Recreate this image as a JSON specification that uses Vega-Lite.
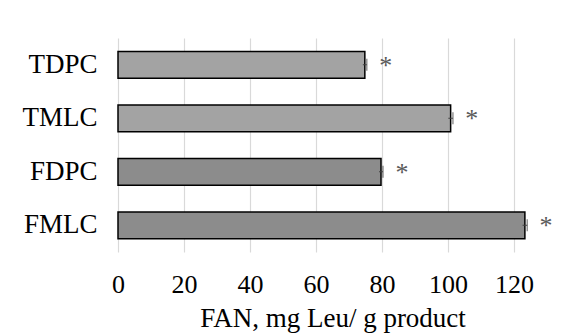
{
  "$schema": "https://vega.github.io/schema/vega-lite/v6.json",
  "autosize": "none",
  "width": 429,
  "height": 214,
  "padding": {"left": 118, "top": 38, "right": 24, "bottom": 81},
  "background": "white",
  "config": {
    "view": {"stroke": null},
    "font": "Liberation Serif",
    "axis": {"labelFont": "Liberation Serif", "titleFont": "Liberation Serif", "labelColor": "black", "titleColor": "black"}
  },
  "data": {
    "values": [
      {"product": "TDPC", "fan": 74.8, "err": 0.6, "group": "T"},
      {"product": "TMLC", "fan": 100.8, "err": 0.7, "group": "T"},
      {"product": "FDPC", "fan": 79.7, "err": 0.6, "group": "F"},
      {"product": "FMLC", "fan": 123.3, "err": 0.7, "group": "F"}
    ]
  },
  "transform": [
    {"calculate": "datum.fan - datum.err", "as": "lo"},
    {"calculate": "datum.fan + datum.err", "as": "hi"}
  ],
  "encoding": {
    "y": {
      "field": "product",
      "type": "nominal",
      "sort": ["TDPC", "TMLC", "FDPC", "FMLC"],
      "scale": {"paddingInner": 0.5, "paddingOuter": 0.25},
      "axis": {"title": null, "ticks": false, "domain": false, "labelFontSize": 27, "labelPadding": 21, "grid": false}
    }
  },
  "layer": [
    {
      "mark": {"type": "bar", "stroke": "black", "strokeWidth": 1.5},
      "encoding": {
        "x": {
          "field": "fan",
          "type": "quantitative",
          "scale": {"domain": [0, 130], "nice": false},
          "axis": {
            "values": [0, 20, 40, 60, 80, 100, 120],
            "title": "FAN, mg Leu/ g product",
            "titleFontSize": 27,
            "titleFontWeight": "normal",
            "titlePadding": 8,
            "labelFontSize": 26,
            "labelPadding": 19,
            "labelFlush": false,
            "labelOverlap": false,
            "ticks": false,
            "domain": false,
            "grid": true,
            "gridColor": "#d9d9d9",
            "gridWidth": 1.2
          }
        },
        "fill": {
          "field": "group",
          "type": "nominal",
          "scale": {"domain": ["T", "F"], "range": ["#a3a3a3", "#8c8c8c"]},
          "legend": null
        }
      }
    },
    {
      "mark": {"type": "rule", "color": "#404040", "strokeWidth": 1},
      "encoding": {
        "x": {"field": "lo", "type": "quantitative"},
        "x2": {"field": "hi"}
      }
    },
    {
      "mark": {"type": "tick", "color": "#404040", "thickness": 1.2, "size": 12, "orient": "vertical"},
      "encoding": {
        "x": {"field": "hi", "type": "quantitative"}
      }
    },
    {
      "mark": {"type": "text", "text": "*", "fontSize": 26, "color": "#595959", "dx": 21, "dy": 1, "align": "center", "baseline": "middle", "font": "Liberation Serif"},
      "encoding": {
        "x": {"field": "fan", "type": "quantitative"}
      }
    }
  ]
}
